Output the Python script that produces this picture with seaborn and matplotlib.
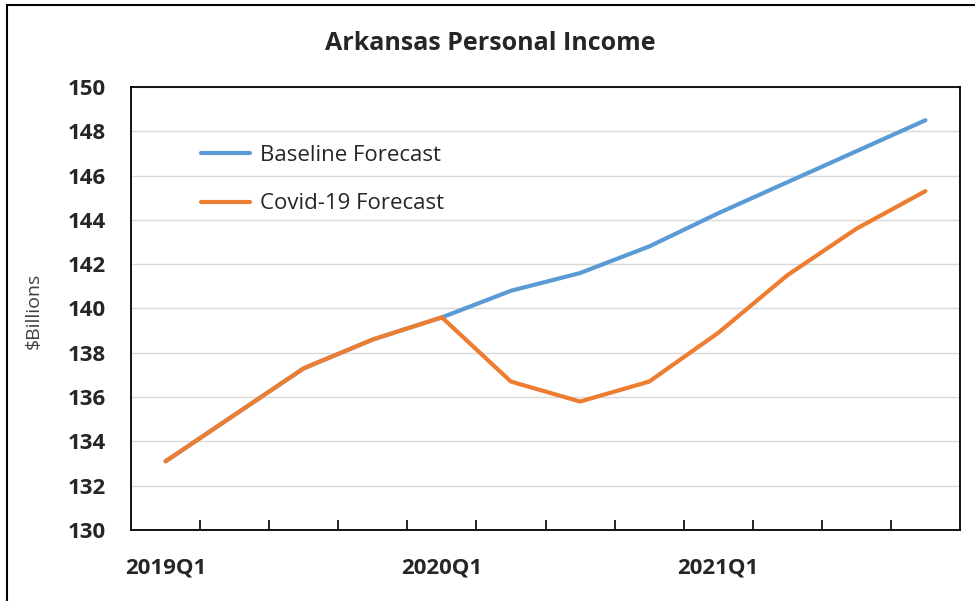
import matplotlib
matplotlib.use("Agg")
import matplotlib.pyplot as plt
import seaborn as sns
import pandas as pd
from matplotlib.lines import Line2D

quarters = ["2019Q1", "2019Q2", "2019Q3", "2019Q4",
            "2020Q1", "2020Q2", "2020Q3", "2020Q4",
            "2021Q1", "2021Q2", "2021Q3", "2021Q4"]
baseline = [133.1, 135.2, 137.3, 138.6, 139.6, 140.8, 141.6, 142.8, 144.3, 145.7, 147.1, 148.5]
covid = [133.1, 135.2, 137.3, 138.6, 139.6, 136.7, 135.8, 136.7, 138.9, 141.5, 143.6, 145.3]
series_names = ["Baseline Forecast", "Covid-19 Forecast"]
shown_labels = ["2019Q1", "2020Q1", "2021Q1"]

sns.set_theme(style="white")
plt.rcParams['font.family'] = ['Open Sans', 'DejaVu Sans']

rows = []
for i, q in enumerate(quarters):
    rows.append({"idx": i, "quarter": q, "value": baseline[i], "series": series_names[0]})
for i, q in enumerate(quarters):
    rows.append({"idx": i, "quarter": q, "value": covid[i], "series": series_names[1]})
df = pd.DataFrame(rows)

fig = plt.figure(figsize=(9.75, 6.01), dpi=100)
ax = fig.add_axes([131/975, 1-530/601, (960-131)/975, (530-87)/601])

sns.lineplot(data=df, x="idx", y="value", hue="series",
             palette={series_names[0]: "#5B9BD5", series_names[1]: "#ED7D31"},
             linewidth=3, ax=ax, legend=False)

ax.set_xlim(-0.5, len(quarters) - 0.5)
ax.set_ylim(130, 150)
ax.set_yticks(range(130, 151, 2))
ax.yaxis.grid(True, color="#D9D9D9", linewidth=1)
ax.set_axisbelow(True)

# x ticks: labels at selected quarters, tick marks at category boundaries
major_pos = [quarters.index(l) for l in shown_labels]
ax.set_xticks(major_pos)
ax.set_xticklabels(shown_labels, fontsize=16, fontweight="bold")
ax.set_xticks([k + 0.5 for k in range(len(quarters) - 1)], minor=True)
ax.tick_params(axis="x", which="major", length=0, pad=20)
ax.tick_params(axis="x", which="minor", direction="in", length=7, width=1.2, color="black", bottom=True)
ax.tick_params(axis="y", length=0, labelsize=16)
for t in ax.get_yticklabels():
    t.set_fontweight("bold")
    t.set_horizontalalignment("center")
ax.tick_params(axis="y", pad=32)

for s in ax.spines.values():
    s.set_color("black")
    s.set_linewidth(1.3)

ax.set_xlabel("")
ax.set_ylabel("$Billions", fontsize=14, color="#404040")
ax.yaxis.set_label_coords(-0.107, 0.495)

handles = [Line2D([], [], color="#5B9BD5", linewidth=3),
           Line2D([], [], color="#ED7D31", linewidth=3)]
ax.legend(handles, series_names, loc="upper left", bbox_to_anchor=(0.0735, 0.89),
          frameon=False, fontsize=16, handlelength=2.2, handletextpad=0.45,
          labelspacing=1.25, borderaxespad=0)

fig.text(0.503, 0.928, "Arkansas Personal Income", ha="center", va="center",
         fontsize=18, fontweight="bold")

# outer frame lines (top and left)
fig.add_artist(Line2D([7/975, 1], [1-5/601, 1-5/601], color="black", linewidth=1.5, transform=fig.transFigure))
fig.add_artist(Line2D([7/975, 7/975], [0, 1-5/601], color="black", linewidth=1.5, transform=fig.transFigure))

fig.savefig("out.png", dpi=100)
